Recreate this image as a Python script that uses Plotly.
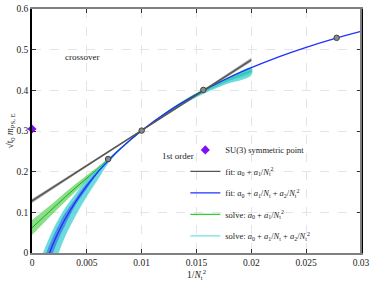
import plotly.graph_objects as go

# ---------------- data ----------------
# lattice data points (x = 1/Nt^2)
pts_x = [0.00694, 0.01, 0.015625, 0.02778]
pts_y = [0.231, 0.301, 0.401, 0.529]

# SU(3) symmetric point
su3_x = [0.0]
su3_y = [0.305]

# fit a0 + a1/Nt^2 (gray)
gray_x = [0.0, 0.005, 0.01, 0.015, 0.02]
gray_y = [0.128, 0.2148, 0.3015, 0.3883, 0.475]
gray_up = [0.133, 0.218, 0.303, 0.391, 0.480]
gray_lo = [0.123, 0.212, 0.300, 0.385, 0.470]

# solve a0 + a1/Nt^2 (green)
green_x = [0.0, 0.002, 0.004, 0.006, 0.008, 0.01, 0.0125, 0.015, 0.0175, 0.02]
green_y = [0.062, 0.112, 0.161, 0.207, 0.255, 0.300, 0.350, 0.391, 0.423, 0.448]
green_up = [0.081, 0.125, 0.170, 0.212, 0.257, 0.301, 0.352, 0.394, 0.427, 0.453]
green_lo = [0.044, 0.099, 0.152, 0.202, 0.252, 0.299, 0.348, 0.388, 0.419, 0.443]

# fit a0 + a1/Nt + a2/Nt^2 (blue)
blue_x = [0.0016, 0.002, 0.0025, 0.003, 0.004, 0.005, 0.006, 0.007, 0.008, 0.01,
          0.0125, 0.015, 0.0175, 0.02, 0.0225, 0.025, 0.0275, 0.03]
blue_y = [0.0, 0.027, 0.0565, 0.0825, 0.127, 0.165, 0.199, 0.228, 0.255, 0.301,
          0.3495, 0.390, 0.4254, 0.4557, 0.4824, 0.5058, 0.5267, 0.545]
blueband_x = [0.001, 0.0015, 0.002, 0.0025, 0.003, 0.004, 0.005, 0.006, 0.007, 0.008, 0.01]
blueband_up = [-0.023, 0.014, 0.0451, 0.0724, 0.0969, 0.1355, 0.172, 0.202, 0.229, 0.2555, 0.301]
blueband_lo = [-0.0805, -0.031, 0.007, 0.0392, 0.0673, 0.119, 0.158, 0.196, 0.227, 0.2545, 0.301]

# solve a0 + a1/Nt + a2/Nt^2 (cyan)
cyan_x = [0.001, 0.0015, 0.002, 0.0025, 0.003, 0.004, 0.005, 0.006, 0.007, 0.008, 0.009,
          0.01, 0.0125, 0.015, 0.0175, 0.02]
cyan_y = [-0.0492, -0.0073, 0.027, 0.0565, 0.0825, 0.127, 0.165, 0.199, 0.228, 0.255, 0.2788,
          0.301, 0.348, 0.387, 0.419, 0.447]
cyan_up = [0.0, 0.033, 0.062, 0.087, 0.110, 0.147, 0.182, 0.207, 0.232, 0.257, 0.279,
           0.301, 0.350, 0.391, 0.425, 0.456]
cyan_lo = [-0.158, -0.09, -0.031, 0.005, 0.039, 0.092, 0.139, 0.180, 0.222, 0.252, 0.277,
           0.300, 0.346, 0.383, 0.413, 0.437]

x_ticks = [0, 0.005, 0.01, 0.015, 0.02, 0.025, 0.03]
x_ticklabels = ["0", "0.005", "0.01", "0.015", "0.02", "0.025", "0.03"]
y_ticks = [0, 0.1, 0.2, 0.3, 0.4, 0.5, 0.6]
y_ticklabels = ["0", "0.1", "0.2", "0.3", "0.4", "0.5", "0.6"]

# ---------------- styles ----------------
FONT = "Liberation Serif"
C_GRAY = "#555555"
C_GRAYBAND = "rgba(110,110,110,0.55)"
C_GREEN = "#10b010"
C_GREENBAND = "rgba(60,200,60,0.6)"
C_BLUE = "#2030ff"
C_BLUEBAND = "rgba(40,90,230,0.55)"
C_CYAN = "#30c8c8"
C_CYANBAND = "rgba(60,205,210,0.75)"
C_LEGCYAN = "#70e0e0"
C_PURPLE = "#7f10f0"


def band(xs, up, lo, color, shape="spline"):
    return go.Scatter(
        x=list(xs) + list(xs)[::-1],
        y=list(up) + list(lo)[::-1],
        fill="toself", fillcolor=color, mode="lines",
        line=dict(width=0, shape=shape), hoverinfo="skip", showlegend=False,
    )


fig = go.Figure()

# bands
fig.add_trace(band(gray_x, gray_up, gray_lo, C_GRAYBAND, shape="linear"))
fig.add_trace(band(green_x, green_up, green_lo, C_GREENBAND))
fig.add_trace(go.Scatter(x=green_x, y=green_y, mode="lines",
                         line=dict(color=C_GREEN, width=1, shape="spline"),
                         showlegend=False, hoverinfo="skip"))
fig.add_trace(band(cyan_x, cyan_up, cyan_lo, C_CYANBAND))
fig.add_trace(go.Scatter(x=cyan_x, y=cyan_y, mode="lines",
                         line=dict(color=C_CYAN, width=1, shape="spline"),
                         showlegend=False, hoverinfo="skip"))
fig.add_trace(band(blueband_x, blueband_up, blueband_lo, C_BLUEBAND))
fig.add_trace(go.Scatter(x=blue_x, y=blue_y, mode="lines",
                         line=dict(color=C_BLUE, width=1.3, shape="spline"),
                         showlegend=False, hoverinfo="skip"))
fig.add_trace(go.Scatter(x=gray_x, y=gray_y, mode="lines",
                         line=dict(color=C_GRAY, width=1.5),
                         showlegend=False, hoverinfo="skip"))

# data points
fig.add_trace(go.Scatter(x=pts_x, y=pts_y, mode="markers",
                         marker=dict(size=5.5, color="#8a8a8a",
                                     line=dict(color="#404040", width=1)),
                         showlegend=False))
fig.add_trace(go.Scatter(x=su3_x, y=su3_y, mode="markers", cliponaxis=False,
                         marker=dict(symbol="diamond", size=7, color=C_PURPLE),
                         name="SU(3) symmetric point", legendgroup="a", legendrank=1))

# legend-only entries
ln = dict(mode="lines", x=[None], y=[None])
fig.add_trace(go.Scatter(**ln, line=dict(color=C_GRAY, width=1.2),
                         name="fit: <i>a</i><sub>0</sub> + <i>a</i><sub>1</sub>/<i>N</i><sub>t</sub><sup>2</sup>",
                         legendgroup="b", legendrank=2))
fig.add_trace(go.Scatter(**ln, line=dict(color=C_BLUE, width=1.2),
                         name="fit: <i>a</i><sub>0</sub> + <i>a</i><sub>1</sub>/<i>N</i><sub>t</sub> + <i>a</i><sub>2</sub>/<i>N</i><sub>t</sub><sup>2</sup>",
                         legendgroup="c", legendrank=3))
fig.add_trace(go.Scatter(**ln, line=dict(color="#30d030", width=1.2),
                         name="solve: <i>a</i><sub>0</sub> + <i>a</i><sub>1</sub>/<i>N</i><sub>t</sub><sup>2</sup>",
                         legendgroup="d", legendrank=4))
fig.add_trace(go.Scatter(**ln, line=dict(color=C_LEGCYAN, width=1.2),
                         name="solve: <i>a</i><sub>0</sub> + <i>a</i><sub>1</sub>/<i>N</i><sub>t</sub> + <i>a</i><sub>2</sub>/<i>N</i><sub>t</sub><sup>2</sup>",
                         legendgroup="e", legendrank=5))

axis_common = dict(
    ticks="inside", ticklen=4, tickwidth=1, tickcolor="#333333",
    showgrid=True, gridcolor="#e4e4e4", griddash="dash", gridwidth=1,
    zeroline=False, mirror="allticks", showline=True, automargin=False,
    tickfont=dict(family=FONT, size=9.5, color="#222222"),
)

fig.update_layout(
    width=374, height=281,
    margin=dict(l=32, r=13, t=9, b=28, autoexpand=False),
    paper_bgcolor="white", plot_bgcolor="white",
    font=dict(family=FONT, size=10, color="#222222"),
    xaxis=dict(range=[0, 0.03], tickvals=x_ticks, ticktext=x_ticklabels,
               linecolor="#808080", linewidth=2,
               title=dict(text="1/<i>N</i><sub>t</sub><sup>2</sup>",
                          font=dict(family=FONT, size=9.5), standoff=1),
               **axis_common),
    yaxis=dict(range=[0, 0.6], tickvals=y_ticks, ticktext=y_ticklabels,
               linecolor="#000000", linewidth=1.5,
               title=dict(text="√t<sub>0</sub> <i>m</i><sub>PS, E</sub>",
                          font=dict(family=FONT, size=9.5), standoff=0),
               **axis_common),
    legend=dict(x=0.466, y=0.482, xanchor="left", yanchor="top",
                bgcolor="rgba(0,0,0,0)", tracegroupgap=2.5,
                font=dict(family=FONT, size=8.5, color="#222222"),
                itemwidth=30),
    showlegend=True,
    annotations=[
        dict(x=0.00456, y=0.482, xref="x", yref="y", text="crossover",
             showarrow=False, font=dict(family=FONT, size=9)),
        dict(x=0.0133, y=0.239, xref="x", yref="y", text="1st order",
             showarrow=False, font=dict(family=FONT, size=9)),
    ],
    shapes=[
        dict(type="line", xref="paper", yref="paper", x0=1, x1=1, y0=0, y1=1,
             line=dict(color="#808080", width=2), layer="above"),
    ],
)

fig.write_html("out.html", config={"displayModeBar": False},
               post_script="document.body.style.margin='0';document.body.style.overflow='hidden';")
